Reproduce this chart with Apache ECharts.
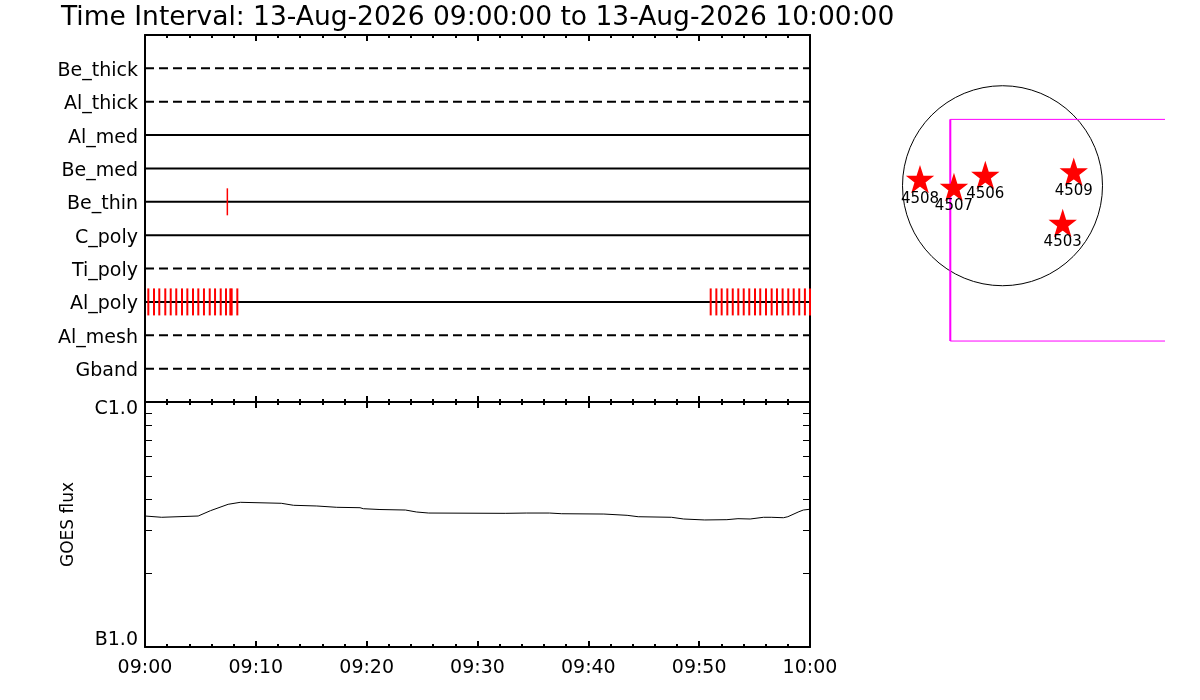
<!DOCTYPE html>
<html><head><meta charset="utf-8">
<script src="https://cdn.jsdelivr.net/npm/echarts@6/dist/echarts.min.js"></script>
<style>html,body{margin:0;padding:0;background:#fff}#c{width:1200px;height:700px}</style>
</head><body><div id="c"></div>
<script>
// ---------- data ----------
const titleText = 'Time Interval: 13-Aug-2026 09:00:00 to 13-Aug-2026 10:00:00';
const filterNames = ['Gband','Al_mesh','Al_poly','Ti_poly','C_poly','Be_thin','Be_med','Al_med','Al_thick','Be_thick']; // row 1..10 bottom→top
const filterLineType = ['dashed','dashed','solid','dashed','solid','solid','solid','solid','dashed','dashed'];
// exposure times (minutes after 09:00)
const alPolyTimes = [0.30,0.81,1.29,1.83,2.32,2.82,3.34,3.82,4.33,4.81,5.32,5.84,6.32,6.83,7.31,7.70,7.82,8.33,
  51.04,51.55,52.03,52.54,53.03,53.53,54.02,54.52,55.04,55.51,56.03,56.54,57.02,57.53,58.04,58.53,59.03,59.54,60.0];
const beThinTimes = [7.43];
// GOES flux (W/m^2)
const goesTime = [0,1.5,4.8,5.9,7.5,8.6,12.3,13.4,15.5,17.3,19.4,19.7,21.2,23.5,24.5,25.6,32.5,34.4,36.5,37.6,41.4,43.5,44.5,47.5,48.6,50.5,52.5,53.5,54.6,55.8,56.5,57.6,58.0,59.0,59.4,60.0];
const goesFlux = [3.425e-7,3.384e-7,3.425e-7,3.60e-7,3.823e-7,3.896e-7,3.86e-7,3.788e-7,3.763e-7,3.717e-7,3.703e-7,3.668e-7,3.64e-7,3.623e-7,3.556e-7,3.522e-7,3.512e-7,3.522e-7,3.522e-7,3.499e-7,3.489e-7,3.447e-7,3.402e-7,3.384e-7,3.33e-7,3.30e-7,3.309e-7,3.340e-7,3.33e-7,3.384e-7,3.384e-7,3.37e-7,3.402e-7,3.566e-7,3.623e-7,3.65e-7];
const xTickLabels = ['09:00','09:10','09:20','09:30','09:40','09:50','10:00'];
// active regions (heliocentric arcsec)
const arNames = ['4508','4507','4506','4509','4503'];
const arX = [-792,-466,-165,684,578];
const arY = [61,-15,100,132,-361];
const sunRadius = 960;
const fovX = [-501, 2600];   // left, right
const fovY = [-1491, 637];   // bottom, top

// ---------- chart ----------
const FONT = 'DejaVu Sans';
const chart = echarts.init(document.getElementById('c'), null, {renderer:'canvas'});
const rowIndex = v => filterNames[v-1];
const tickAxisBase = (grid, pos) => ({
  type:'value', gridIndex:grid, position:pos, min:0, max:60, interval:10,
  axisLine:{show:true,onZero:false,lineStyle:{color:'#000',width:2}},
  axisTick:{show:true,inside:true,length:6,lineStyle:{color:'#000',width:2}},
  minorTick:{show:true,splitNumber:5,length:3,lineStyle:{color:'#000',width:2}},
  axisLabel:{show:false}, splitLine:{show:false}
});
const starPath = 'path://M50,0 L62,36 L100,36 L69.5,58.5 L81,95 L50,72.5 L19,95 L30.5,58.5 L0,36 L38,36 Z';
const log10 = Math.log10;
const minorLogTicks = [2,3,4,5,6,7,8,9].map(k => -7 + log10(k));

const series = [];
filterNames.forEach((n,i) => {
  series.push({
    type:'line', xAxisIndex:0, yAxisIndex:0, symbol:'none', silent:true,
    data:[[0,i+1],[60,i+1]],
    lineStyle:{color:'#000',width:2,type: filterLineType[i]==='dashed' ? [9,5] : 'solid'}, z:2
  });
});
series.push({
  type:'scatter', xAxisIndex:0, yAxisIndex:0, symbol:'rect', symbolSize:[2,27],
  itemStyle:{color:'#ff0000',opacity:1}, data: alPolyTimes.map(t => [t, filterNames.indexOf('Al_poly')+1]), z:5, silent:true
});
series.push({
  type:'scatter', xAxisIndex:0, yAxisIndex:0, symbol:'rect', symbolSize:[1.5,27],
  itemStyle:{color:'#ff0000',opacity:1}, data: beThinTimes.map(t => [t, filterNames.indexOf('Be_thin')+1]), z:5, silent:true
});
series.push({
  type:'line', xAxisIndex:2, yAxisIndex:2, symbol:'none', silent:true,
  data: goesTime.map((t,i)=>[t,goesFlux[i]]), lineStyle:{color:'#000',width:1}
});
// Sun limb
series.push({
  type:'custom', xAxisIndex:4, yAxisIndex:5, silent:true, clip:true,
  data:[[0,0]],
  renderItem:(params, api) => {
    const c = api.coord([api.value(0), api.value(1)]);
    const r = api.size([sunRadius, sunRadius])[0];
    return {type:'circle', shape:{cx:c[0],cy:c[1],r:r}, style:{fill:null,stroke:'#000',lineWidth:1}};
  }
});
// FOV box
series.push({
  type:'custom', xAxisIndex:4, yAxisIndex:5, silent:true, clip:true,
  data:[[fovX[0],fovY[0],fovX[1],fovY[1]]],
  renderItem:(params, api) => {
    const p0 = api.coord([api.value(0), api.value(3)]);
    const p1 = api.coord([api.value(2), api.value(1)]);
    return {type:'group', children:[
      {type:'rect', shape:{x:p0[0],y:p0[1],width:p1[0]-p0[0],height:p1[1]-p0[1]}, style:{fill:null,stroke:'#ff00ff',lineWidth:1}},
      {type:'line', shape:{x1:p0[0],y1:p0[1],x2:p0[0],y2:p1[1]}, style:{stroke:'#ff00ff',lineWidth:2}}
    ]};
  }
});
series.push({
  type:'scatter', xAxisIndex:4, yAxisIndex:5, symbol:starPath, symbolSize:[24,24], silent:true,
  itemStyle:{color:'#ff0000',opacity:1,borderColor:'#ff0000',borderWidth:1.5}, z:6,
  data: arNames.map((n,i)=>({name:n, value:[arX[i],arY[i]]})),
  label:{show:true, position:'bottom', distance:-1, formatter:'{b}', color:'#000', opacity:1, fontFamily:FONT, fontSize:15}
});

chart.setOption({
  animation:false,
  backgroundColor:'#fff',
  title:{text:titleText, left:56, top:0, textStyle:{fontFamily:FONT,fontSize:26.5,fontWeight:'normal',color:'#000'}},
  grid:[
    {left:145, top:35, width:665, height:367},
    {left:145, top:402, width:665, height:245},
    {left:880, top:60, width:285, height:300}
  ],
  xAxis:[
    tickAxisBase(0,'bottom'),
    tickAxisBase(0,'top'),
    Object.assign(tickAxisBase(1,'bottom'), {axisLabel:{show:true,margin:12,color:'#000',fontFamily:FONT,fontSize:19,
      formatter:v => xTickLabels[Math.round(v/10)] || ''}}),
    tickAxisBase(1,'top'),
    {type:'value', gridIndex:2, min:-1176, max:1560, show:false}
  ],
  yAxis:[
    {type:'value', gridIndex:0, position:'left', min:0, max:11, interval:1,
      axisLine:{show:true,onZero:false,lineStyle:{color:'#000',width:2}}, axisTick:{show:false}, splitLine:{show:false},
      axisLabel:{show:true, margin:7, color:'#000', fontFamily:FONT, fontSize:19,
        formatter:v => rowIndex(v) ? '{r|' + rowIndex(v) + '}' : '',
        rich:{r:{padding:[5,0,0,0],fontFamily:FONT,fontSize:19,color:'#000'}}}},
    {type:'value', gridIndex:0, position:'right', min:0, max:11, interval:1,
      axisLine:{show:true,onZero:false,lineStyle:{color:'#000',width:2}}, axisTick:{show:false}, axisLabel:{show:false}, splitLine:{show:false}},
    {type:'log', gridIndex:1, position:'left', min:1e-7, max:1e-6, logBase:10,
      axisLine:{show:true,onZero:false,lineStyle:{color:'#000',width:2}}, axisTick:{show:false}, splitLine:{show:false},
      name:'GOES flux', nameLocation:'middle', nameGap:68, nameRotate:90,
      nameTextStyle:{color:'#000',fontFamily:FONT,fontSize:17},
      axisLabel:{show:true, margin:7, color:'#000', fontFamily:FONT, fontSize:19,
        formatter:v => (v < 3e-7 ? '{b|B1.0}' : '{c|C1.0}'),
        rich:{b:{padding:[0,0,14,0],fontFamily:FONT,fontSize:19,color:'#000'},
              c:{padding:[14,0,0,0],fontFamily:FONT,fontSize:19,color:'#000'}}}},
    {type:'value', gridIndex:1, position:'left', min:-7, max:-6,
      axisLine:{show:false}, axisLabel:{show:false}, splitLine:{show:false},
      axisTick:{show:true, inside:true, length:7, customValues:minorLogTicks, lineStyle:{color:'#000',width:1}}},
    {type:'value', gridIndex:1, position:'right', min:-7, max:-6,
      axisLine:{show:true,onZero:false,lineStyle:{color:'#000',width:2}}, axisLabel:{show:false}, splitLine:{show:false},
      axisTick:{show:true, inside:true, length:7, customValues:minorLogTicks, lineStyle:{color:'#000',width:1}}},
    {type:'value', gridIndex:2, min:-1673, max:1207, show:false}
  ],
  series: series
});
</script></body></html>
